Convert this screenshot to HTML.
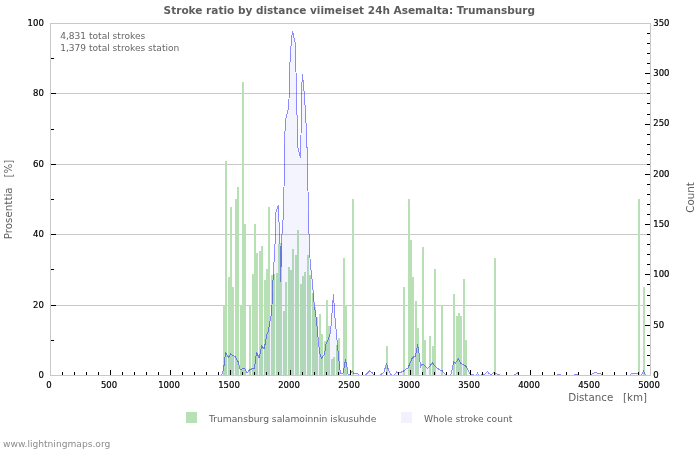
<!DOCTYPE html>
<html><head><meta charset="utf-8"><title>Stroke ratio by distance</title>
<style>
html,body{margin:0;padding:0;background:#fff;}
body{width:700px;height:450px;overflow:hidden;}
svg{display:block;will-change:transform;}
text{font-family:"DejaVu Sans","Liberation Sans",sans-serif;}
.tk{font-size:8.5px;fill:#000;stroke:#000;stroke-width:0.2px;}
.ax{font-size:10.3px;fill:#5e5e5e;}
.lg{font-size:9.17px;fill:#606060;}
.nt{font-size:9.07px;fill:#666;}
</style></head><body>
<svg width="700" height="450" viewBox="0 0 700 450">
<rect x="0" y="0" width="700" height="450" fill="#ffffff"/>

<g shape-rendering="crispEdges" stroke="#c8c8c8" stroke-width="1" fill="none">
<line x1="50" y1="305.5" x2="650" y2="305.5"/>
<line x1="50" y1="234.5" x2="650" y2="234.5"/>
<line x1="50" y1="164.5" x2="650" y2="164.5"/>
<line x1="50" y1="93.5" x2="650" y2="93.5"/>
<line x1="50" y1="23.5" x2="651" y2="23.5"/>
<line x1="50" y1="375.5" x2="651" y2="375.5"/>
<line x1="50.5" y1="23" x2="50.5" y2="376"/>
<line x1="650.5" y1="23" x2="650.5" y2="376"/>
</g>
<g shape-rendering="crispEdges" fill="#b7e1b5">
<rect x="223" y="305" width="2" height="70"/>
<rect x="225" y="161" width="2" height="214"/>
<rect x="228" y="277" width="2" height="98"/>
<rect x="230" y="207" width="2" height="168"/>
<rect x="232" y="287" width="2" height="88"/>
<rect x="235" y="199" width="2" height="176"/>
<rect x="237" y="187" width="2" height="188"/>
<rect x="240" y="305" width="2" height="70"/>
<rect x="242" y="82" width="2" height="293"/>
<rect x="244" y="224" width="2" height="151"/>
<rect x="249" y="305" width="2" height="70"/>
<rect x="252" y="274" width="2" height="101"/>
<rect x="254" y="224" width="2" height="151"/>
<rect x="256" y="253" width="2" height="122"/>
<rect x="259" y="251" width="2" height="124"/>
<rect x="261" y="246" width="2" height="129"/>
<rect x="264" y="280" width="2" height="95"/>
<rect x="266" y="269" width="2" height="106"/>
<rect x="268" y="207" width="2" height="168"/>
<rect x="271" y="275" width="2" height="100"/>
<rect x="273" y="274" width="2" height="101"/>
<rect x="276" y="273" width="2" height="102"/>
<rect x="278" y="244" width="2" height="131"/>
<rect x="280" y="243" width="2" height="132"/>
<rect x="283" y="311" width="2" height="64"/>
<rect x="285" y="282" width="2" height="93"/>
<rect x="288" y="267" width="2" height="108"/>
<rect x="290" y="270" width="2" height="105"/>
<rect x="292" y="249" width="2" height="126"/>
<rect x="295" y="255" width="2" height="120"/>
<rect x="297" y="230" width="2" height="145"/>
<rect x="300" y="284" width="2" height="91"/>
<rect x="302" y="276" width="2" height="99"/>
<rect x="304" y="272" width="2" height="103"/>
<rect x="307" y="255" width="2" height="120"/>
<rect x="309" y="275" width="2" height="100"/>
<rect x="312" y="293" width="2" height="82"/>
<rect x="314" y="307" width="2" height="68"/>
<rect x="316" y="317" width="2" height="58"/>
<rect x="319" y="314" width="2" height="61"/>
<rect x="321" y="334" width="2" height="41"/>
<rect x="324" y="341" width="2" height="34"/>
<rect x="326" y="300" width="2" height="75"/>
<rect x="328" y="326" width="2" height="49"/>
<rect x="331" y="359" width="2" height="16"/>
<rect x="333" y="357" width="2" height="18"/>
<rect x="336" y="345" width="2" height="30"/>
<rect x="338" y="338" width="2" height="37"/>
<rect x="343" y="258" width="2" height="117"/>
<rect x="345" y="305" width="2" height="70"/>
<rect x="352" y="199" width="2" height="176"/>
<rect x="386" y="346" width="2" height="29"/>
<rect x="403" y="287" width="2" height="88"/>
<rect x="408" y="199" width="2" height="176"/>
<rect x="410" y="240" width="2" height="135"/>
<rect x="412" y="277" width="2" height="98"/>
<rect x="415" y="301" width="2" height="74"/>
<rect x="417" y="328" width="2" height="47"/>
<rect x="422" y="247" width="2" height="128"/>
<rect x="424" y="340" width="2" height="35"/>
<rect x="429" y="336" width="2" height="39"/>
<rect x="432" y="346" width="2" height="29"/>
<rect x="434" y="269" width="2" height="106"/>
<rect x="441" y="305" width="2" height="70"/>
<rect x="453" y="294" width="2" height="81"/>
<rect x="456" y="316" width="2" height="59"/>
<rect x="458" y="313" width="2" height="62"/>
<rect x="460" y="316" width="2" height="59"/>
<rect x="463" y="279" width="2" height="96"/>
<rect x="465" y="340" width="2" height="35"/>
<rect x="494" y="258" width="2" height="117"/>
<rect x="638" y="199" width="2" height="176"/>
<rect x="643" y="287" width="2" height="88"/>
</g>
<polygon points="221.5,375 221.5,375.5 223.5,370 225.5,352.5 228.5,357.5 230.5,354 233,355.5 235.5,357 238,361.5 240.2,370 244.2,368 247.2,372.8 250,369.5 254.5,368 256.5,352.5 259.2,358 261.7,345.5 264.2,349 266.7,335 268,332 271,316 272,305 273,280 274,262 275,244 276,212 278.4,205 279,222 280,244 280.5,282 281.2,262 282,234 283,220 283.6,208 284,188 284.5,145 285.4,121 288,110 289,100 289.4,72 290.6,52 291.6,38 292.6,31 294,38 295.4,44 296,72 296.6,105 297.4,124 298,148 300.6,158 301,136 301.4,96 302.4,74 304,91 305.2,108 306.6,134 307.4,160 308,191 309,234 309.8,256 311,270 312.5,283 313.5,297 314.5,307 316.5,320 317.5,332 319.5,352 321.5,358.5 324.5,354 326,344 328,340 330,334 331.5,322 332.5,305 333.5,295 334,303 335,318 336.5,334 337.5,345 338.5,356 340,370 341,373.5 343,373 345.5,360 347,367 348,374 350.5,374 352,371 354.5,374 357,373 359.5,375.5 365,375.5 369.5,371 372,372.5 374,375.5 380,375.5 384,372 386.5,363.5 388.5,370 391.5,375.5 394,375.5 396.5,372 398.5,373.5 400,372.5 403,371.5 406,369 408,368 410.5,362 412.5,357.5 415.5,356 417.5,345 418.5,349 420,362 420.5,367.5 422,364 424.5,365.5 427.5,368.5 432.5,363 436,367 439.5,370 441.5,370 446,375.5 450.5,375.5 451.5,373 453.5,362 455.5,363 458.5,358.5 460.5,363 465,365.5 466.5,367 470,374 476,375.5 477.5,373 479,375.5 485,374 487.5,371.5 489.5,374 492,374 494,372.5 496,373.5 501,375.5 503,375.5 514,375.5 517.5,372.5 518.5,375.5 557,375.5 559,374 561,375.5 574,375.5 576,374 578,375.5 589.5,375.5 595,372.5 601,374 603,375.5 629,375.5 632,373.5 637,373 639,375.5 641,375.5 643.5,371 646,375.5 650,375.5 650,375" fill="#0000ff" fill-opacity="0.045" stroke="none" shape-rendering="crispEdges"/>
<polyline points="221.5,375.5 223.5,370 225.5,352.5 228.5,357.5 230.5,354 233,355.5 235.5,357 238,361.5 240.2,370 244.2,368 247.2,372.8 250,369.5 254.5,368 256.5,352.5 259.2,358 261.7,345.5 264.2,349 266.7,335 268,332 271,316 272,305 273,280 274,262 275,244 276,212 278.4,205 279,222 280,244 280.5,282 281.2,262 282,234 283,220 283.6,208 284,188 284.5,145 285.4,121 288,110 289,100 289.4,72 290.6,52 291.6,38 292.6,31 294,38 295.4,44 296,72 296.6,105 297.4,124 298,148 300.6,158 301,136 301.4,96 302.4,74 304,91 305.2,108 306.6,134 307.4,160 308,191 309,234 309.8,256 311,270 312.5,283 313.5,297 314.5,307 316.5,320 317.5,332 319.5,352 321.5,358.5 324.5,354 326,344 328,340 330,334 331.5,322 332.5,305 333.5,295 334,303 335,318 336.5,334 337.5,345 338.5,356 340,370 341,373.5 343,373 345.5,360 347,367 348,374 350.5,374 352,371 354.5,374 357,373 359.5,375.5 365,375.5 369.5,371 372,372.5 374,375.5 380,375.5 384,372 386.5,363.5 388.5,370 391.5,375.5 394,375.5 396.5,372 398.5,373.5 400,372.5 403,371.5 406,369 408,368 410.5,362 412.5,357.5 415.5,356 417.5,345 418.5,349 420,362 420.5,367.5 422,364 424.5,365.5 427.5,368.5 432.5,363 436,367 439.5,370 441.5,370 446,375.5 450.5,375.5 451.5,373 453.5,362 455.5,363 458.5,358.5 460.5,363 465,365.5 466.5,367 470,374 476,375.5 477.5,373 479,375.5 485,374 487.5,371.5 489.5,374 492,374 494,372.5 496,373.5 501,375.5 503,375.5 514,375.5 517.5,372.5 518.5,375.5 557,375.5 559,374 561,375.5 574,375.5 576,374 578,375.5 589.5,375.5 595,372.5 601,374 603,375.5 629,375.5 632,373.5 637,373 639,375.5 641,375.5 643.5,371 646,375.5 650,375.5" fill="none" stroke="#0000ff" stroke-opacity="0.44" stroke-width="1" stroke-linejoin="round" shape-rendering="crispEdges"/>
<rect x="50" y="375" width="601" height="1" fill="#c8c8c8" shape-rendering="crispEdges"/>
<g shape-rendering="crispEdges" fill="#000">
<rect x="62" y="372" width="1" height="3"/>
<rect x="74" y="372" width="1" height="3"/>
<rect x="86" y="372" width="1" height="3"/>
<rect x="98" y="372" width="1" height="3"/>
<rect x="110" y="370" width="1" height="5"/>
<rect x="122" y="372" width="1" height="3"/>
<rect x="134" y="372" width="1" height="3"/>
<rect x="146" y="372" width="1" height="3"/>
<rect x="158" y="372" width="1" height="3"/>
<rect x="170" y="370" width="1" height="5"/>
<rect x="182" y="372" width="1" height="3"/>
<rect x="194" y="372" width="1" height="3"/>
<rect x="206" y="372" width="1" height="3"/>
<rect x="218" y="372" width="1" height="3"/>
<rect x="230" y="370" width="1" height="5"/>
<rect x="242" y="372" width="1" height="3"/>
<rect x="254" y="372" width="1" height="3"/>
<rect x="266" y="372" width="1" height="3"/>
<rect x="278" y="372" width="1" height="3"/>
<rect x="290" y="370" width="1" height="5"/>
<rect x="302" y="372" width="1" height="3"/>
<rect x="314" y="372" width="1" height="3"/>
<rect x="326" y="372" width="1" height="3"/>
<rect x="338" y="372" width="1" height="3"/>
<rect x="350" y="370" width="1" height="5"/>
<rect x="362" y="372" width="1" height="3"/>
<rect x="374" y="372" width="1" height="3"/>
<rect x="386" y="372" width="1" height="3"/>
<rect x="398" y="372" width="1" height="3"/>
<rect x="410" y="370" width="1" height="5"/>
<rect x="422" y="372" width="1" height="3"/>
<rect x="434" y="372" width="1" height="3"/>
<rect x="446" y="372" width="1" height="3"/>
<rect x="458" y="372" width="1" height="3"/>
<rect x="470" y="370" width="1" height="5"/>
<rect x="482" y="372" width="1" height="3"/>
<rect x="494" y="372" width="1" height="3"/>
<rect x="506" y="372" width="1" height="3"/>
<rect x="518" y="372" width="1" height="3"/>
<rect x="530" y="370" width="1" height="5"/>
<rect x="542" y="372" width="1" height="3"/>
<rect x="554" y="372" width="1" height="3"/>
<rect x="566" y="372" width="1" height="3"/>
<rect x="578" y="372" width="1" height="3"/>
<rect x="590" y="370" width="1" height="5"/>
<rect x="602" y="372" width="1" height="3"/>
<rect x="614" y="372" width="1" height="3"/>
<rect x="626" y="372" width="1" height="3"/>
<rect x="638" y="372" width="1" height="3"/>
<rect x="51" y="340" width="3" height="1"/>
<rect x="51" y="305" width="5" height="1"/>
<rect x="51" y="269" width="3" height="1"/>
<rect x="51" y="234" width="5" height="1"/>
<rect x="51" y="199" width="3" height="1"/>
<rect x="51" y="164" width="5" height="1"/>
<rect x="51" y="129" width="3" height="1"/>
<rect x="51" y="93" width="5" height="1"/>
<rect x="51" y="58" width="3" height="1"/>
<rect x="647" y="365" width="3" height="1"/>
<rect x="647" y="355" width="3" height="1"/>
<rect x="647" y="345" width="3" height="1"/>
<rect x="647" y="335" width="3" height="1"/>
<rect x="645" y="325" width="5" height="1"/>
<rect x="647" y="315" width="3" height="1"/>
<rect x="647" y="305" width="3" height="1"/>
<rect x="647" y="295" width="3" height="1"/>
<rect x="647" y="284" width="3" height="1"/>
<rect x="645" y="274" width="5" height="1"/>
<rect x="647" y="264" width="3" height="1"/>
<rect x="647" y="254" width="3" height="1"/>
<rect x="647" y="244" width="3" height="1"/>
<rect x="647" y="234" width="3" height="1"/>
<rect x="645" y="224" width="5" height="1"/>
<rect x="647" y="214" width="3" height="1"/>
<rect x="647" y="204" width="3" height="1"/>
<rect x="647" y="194" width="3" height="1"/>
<rect x="647" y="184" width="3" height="1"/>
<rect x="645" y="174" width="5" height="1"/>
<rect x="647" y="164" width="3" height="1"/>
<rect x="647" y="154" width="3" height="1"/>
<rect x="647" y="144" width="3" height="1"/>
<rect x="647" y="134" width="3" height="1"/>
<rect x="645" y="124" width="5" height="1"/>
<rect x="647" y="114" width="3" height="1"/>
<rect x="647" y="103" width="3" height="1"/>
<rect x="647" y="93" width="3" height="1"/>
<rect x="647" y="83" width="3" height="1"/>
<rect x="645" y="73" width="5" height="1"/>
<rect x="647" y="63" width="3" height="1"/>
<rect x="647" y="53" width="3" height="1"/>
<rect x="647" y="43" width="3" height="1"/>
<rect x="647" y="33" width="3" height="1"/>
</g>
<g opacity="0.999">
<text class="tk" x="43.8" y="377.8" text-anchor="end">0</text>
<text class="tk" x="43.8" y="307.8" text-anchor="end">20</text>
<text class="tk" x="43.8" y="236.8" text-anchor="end">40</text>
<text class="tk" x="43.8" y="166.8" text-anchor="end">60</text>
<text class="tk" x="43.8" y="95.8" text-anchor="end">80</text>
<text class="tk" x="43.8" y="25.8" text-anchor="end">100</text>
<text class="tk" x="653.3" y="377.8">0</text>
<text class="tk" x="653.3" y="327.5">50</text>
<text class="tk" x="653.3" y="277.2">100</text>
<text class="tk" x="653.3" y="226.9">150</text>
<text class="tk" x="653.3" y="176.7">200</text>
<text class="tk" x="653.3" y="126.4">250</text>
<text class="tk" x="653.3" y="76.1">300</text>
<text class="tk" x="653.3" y="25.8">350</text>
<text class="tk" x="49.0" y="387.6" text-anchor="middle">0</text>
<text class="tk" x="109.0" y="387.6" text-anchor="middle">500</text>
<text class="tk" x="169.0" y="387.6" text-anchor="middle">1000</text>
<text class="tk" x="229.0" y="387.6" text-anchor="middle">1500</text>
<text class="tk" x="289.0" y="387.6" text-anchor="middle">2000</text>
<text class="tk" x="349.0" y="387.6" text-anchor="middle">2500</text>
<text class="tk" x="409.0" y="387.6" text-anchor="middle">3000</text>
<text class="tk" x="469.0" y="387.6" text-anchor="middle">3500</text>
<text class="tk" x="529.0" y="387.6" text-anchor="middle">4000</text>
<text class="tk" x="589.0" y="387.6" text-anchor="middle">4500</text>
<text class="tk" x="649.0" y="387.6" text-anchor="middle">5000</text>
<text x="349.3" y="14" text-anchor="middle" font-size="10.53px" font-weight="bold" fill="#5c5c5c">Stroke ratio by distance viimeiset 24h Asemalta: Trumansburg</text>
<text class="nt" x="60.2" y="38.5">4,831 total strokes</text>
<text class="nt" x="60.2" y="50.5">1,379 total strokes station</text>
<text class="ax" transform="translate(11.9,199.5) rotate(-90)" text-anchor="middle" xml:space="preserve" style="white-space:pre">Prosenttia   [%]</text>
<text class="ax" transform="translate(694.2,197.5) rotate(-90)" text-anchor="middle">Count</text>
<text class="ax" x="647.1" y="401" text-anchor="end" xml:space="preserve" style="white-space:pre">Distance   [km]</text>
<rect x="186" y="412" width="11" height="11" fill="#b7e1b5"/>
<text class="lg" x="209" y="422">Trumansburg salamoinnin iskusuhde</text>
<rect x="401" y="412" width="11" height="11" fill="#f2f2ff"/>
<text class="lg" x="424" y="422">Whole stroke count</text>
<text x="3" y="446.5" font-size="9.12px" fill="#8c8c8c">www.lightningmaps.org</text>
</g>
</svg></body></html>
